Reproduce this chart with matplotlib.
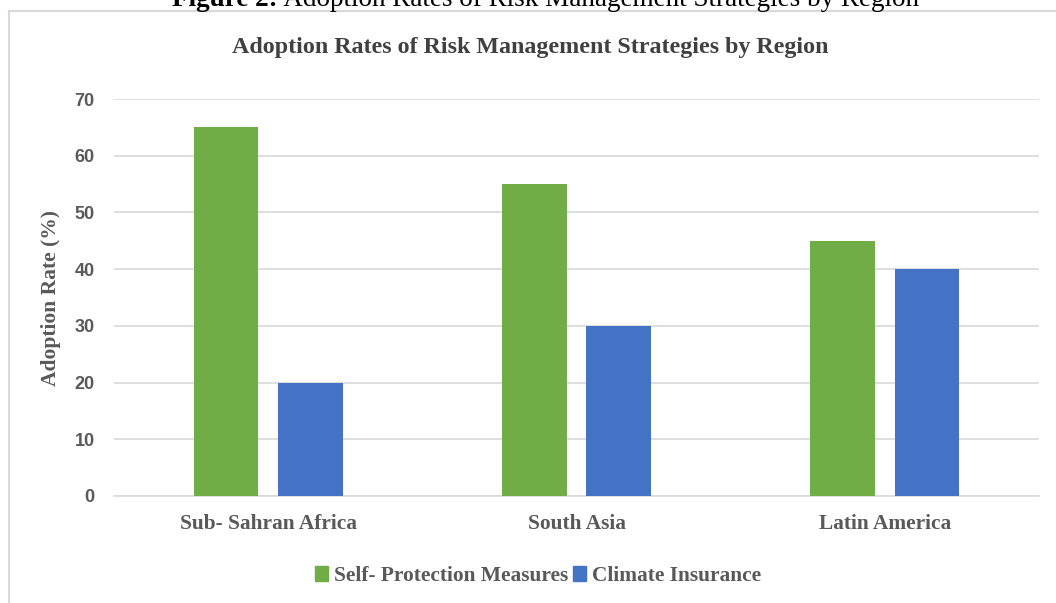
import numpy as np
import matplotlib.pyplot as plt
from matplotlib.lines import Line2D
from matplotlib.patches import Patch

# data
regions = ['Sub- Sahran Africa', 'South Asia', 'Latin America']
self_protection = [65, 55, 45]
climate_insurance = [20, 30, 40]
series_names = ['Self- Protection Measures', 'Climate Insurance']
yticks = [0, 10, 20, 30, 40, 50, 60, 70]

W, H = 1056, 603
green = '#70AD47'
blue = '#4472C4'
grey = '#595959'
serif = 'Liberation Serif'
sans = 'Liberation Sans'

fig = plt.figure(figsize=(W / 100, H / 100), dpi=100)

# chart frame (only top and left edges are visible in the crop)
fig.add_artist(Line2D([9 / W, 1.0], [1 - 11 / H, 1 - 11 / H], color='#d9d9d9', lw=1.5))
fig.add_artist(Line2D([9 / W, 9 / W], [0, 1 - 11 / H], color='#d9d9d9', lw=1.5))

# caption above the chart, its top is cut off as in the source
t1 = fig.text(172 / W, 1 - 6 / H, 'Figure 2:', fontsize=19.5, fontweight='bold',
              family=serif, color='black', va='baseline', ha='left')
fig.canvas.draw()
bb = t1.get_window_extent()
fig.text(bb.x1 / W, 1 - 6 / H, ' Adoption Rates of Risk Management Strategies by Region',
         fontsize=19.5, family=serif, color='black', va='baseline', ha='left')

# plot area
x0, x1 = 114, 1039
y_top, y_bot = 99, 496
ax = fig.add_axes([x0 / W, 1 - y_bot / H, (x1 - x0) / W, (y_bot - y_top) / H])

x = np.arange(len(regions))
bw = 0.21
off = 0.137
ax.bar(x - off, self_protection, bw, color=green, label=series_names[0], zorder=3)
ax.bar(x + off, climate_insurance, bw, color=blue, label=series_names[1], zorder=3)

ax.set_xlim(-0.5, len(regions) - 0.5)
ax.set_ylim(0, 70)
ax.set_yticks(yticks)
ax.set_yticklabels([str(v) for v in yticks], fontsize=13, fontweight='bold',
                   family=sans, color=grey)
ax.set_xticks(x)
ax.set_xticklabels(regions, fontsize=15.4, fontweight='bold', family=serif, color=grey)
ax.tick_params(axis='both', length=0)
ax.tick_params(axis='y', pad=14)
ax.tick_params(axis='x', pad=13)
ax.grid(axis='y', color='#d9d9d9', lw=1.2, zorder=0)
for s in ['top', 'right', 'left']:
    ax.spines[s].set_visible(False)
ax.spines['bottom'].set_color('#d9d9d9')
ax.spines['bottom'].set_linewidth(1.2)

ax.set_ylabel('Adoption Rate (%)', fontsize=15.5, fontweight='bold', family=serif,
              color=grey)
ax.yaxis.set_label_coords((61 - x0) / (x1 - x0), 0.5)

fig.text(0.5 * (230 + 830) / W, 1 - 47 / H,
         'Adoption Rates of Risk Management Strategies by Region',
         fontsize=17.3, fontweight='bold', family=serif, color='#404040',
         ha='center', va='center')

handles = [Patch(color=green), Patch(color=blue)]
fig.legend(handles, series_names, loc='center', bbox_to_anchor=(538 / W, 1 - 576 / H),
           ncol=2, frameon=False, handlelength=0.6, handleheight=0.7,
           handletextpad=0.3, columnspacing=0.2,
           prop={'family': serif, 'weight': 'bold', 'size': 15.4}, labelcolor=grey)

fig.savefig('out.png', dpi=100)
